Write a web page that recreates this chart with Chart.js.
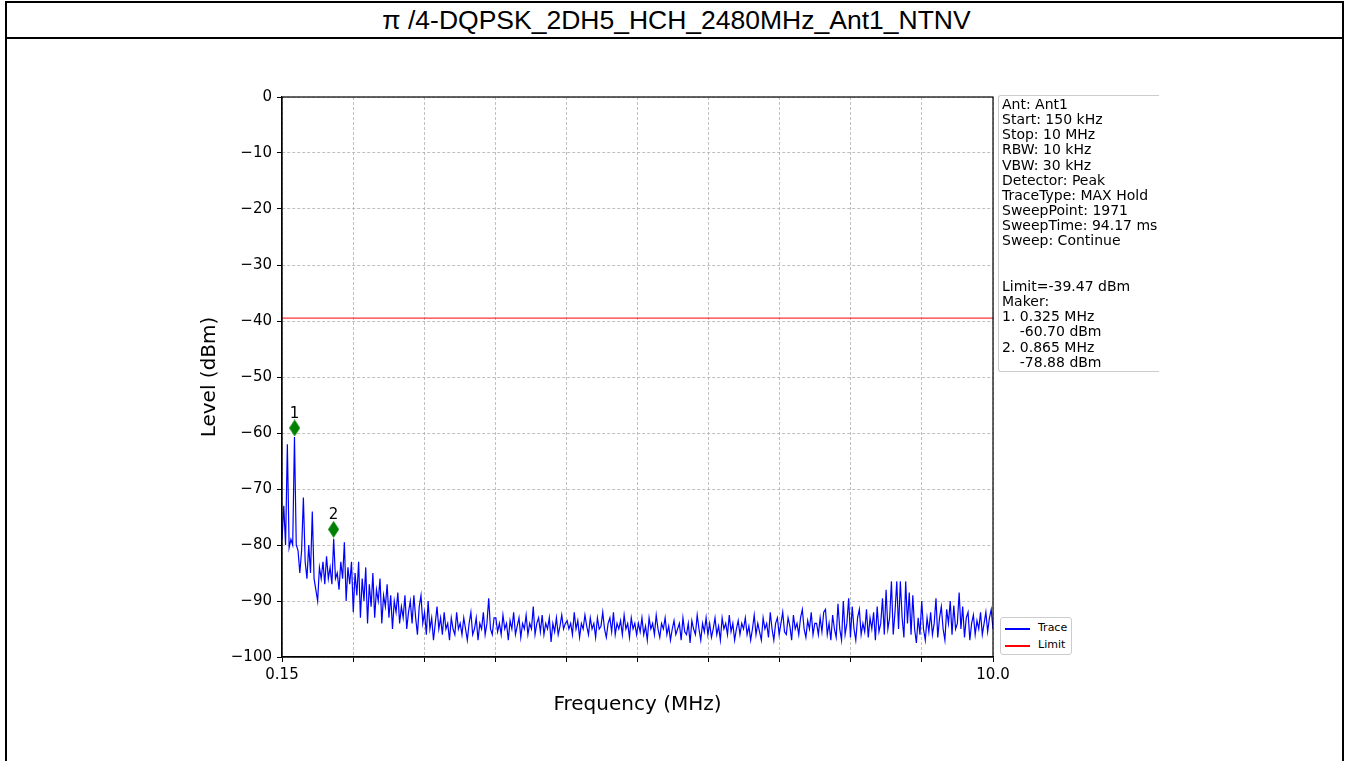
<!DOCTYPE html>
<html>
<head>
<meta charset="utf-8">
<script src="https://cdn.jsdelivr.net/npm/chart.js@4.4.1/dist/chart.umd.min.js"></script>
<style>
  body { margin: 0; background: #fff; width: 1346px; height: 761px; overflow: hidden; position: relative; }
  #frame { position: absolute; left: 5px; top: 1px; width: 1335px; height: 800px; border: 2px solid #000; border-bottom: none; }
  #head { position: absolute; left: 5px; top: 37px; width: 1339px; height: 2px; background: #000; }
  #title { position: absolute; left: 9px; top: 3px; width: 1335px; height: 34px; line-height: 34px; text-align: center;
           font-family: "Liberation Sans", Arial, sans-serif; font-size: 26.5px; color: #000; }
  #wrap { position: absolute; left: 190px; top: 41px; width: 970px; height: 690px; }
  #info { position: absolute; left: 998px; top: 95px; width: 170px; height: 277px; border: 1px solid #ccc; border-right: none;
          border-radius: 3px 0 0 3px; font-family: "DejaVu Sans", sans-serif; font-size: 14px; line-height: 15.15px;
          padding: 1px 0 0 3px; box-sizing: border-box; white-space: pre; color: #000; background: #fff; }
  #clip { position: absolute; left: 1159px; top: 90px; width: 20px; height: 290px; background: #fff; }
  #legend { position: absolute; left: 1000px; top: 617px; width: 72px; height: 38px; border: 1px solid #ccc; border-radius: 3px;
            box-sizing: border-box; font-family: "DejaVu Sans", sans-serif; font-size: 11px; background: #fff; }
  .row { position: absolute; left: 4px; height: 14px; line-height: 14px; }
  .sw { position: absolute; left: 0; top: 7px; width: 25px; height: 1.5px; }
  .lbl { position: absolute; left: 33px; top: 0; }
</style>
</head>
<body>
<div id="frame"></div>
<div id="head"></div>
<div id="title">π /4-DQPSK_2DH5_HCH_2480MHz_Ant1_NTNV</div>
<div id="wrap"><canvas id="myChart" width="970" height="690"></canvas></div>
<div id="info"></div>
<div id="clip"></div>
<div id="legend">
  <div class="row" style="top:3px"><div class="sw" style="background:#0000ff"></div><span class="lbl">Trace</span></div>
  <div class="row" style="top:20px"><div class="sw" style="background:#ff0000"></div><span class="lbl">Limit</span></div>
</div>
<script>
// sweep settings
var startMHz = 0.15;
var stopMHz = 10.0;
var limitDbm = -39.47;

// trace levels (dBm), evenly spaced sweep points
var levelDbm = [
  -79, -73, -80, -62, -80.5, -79, -80, -60.7, -80, -81, -85, -81, -71.5, -83, -86, -80, -85, -74, -86, -88,
  -90, -84, -86, -83, -87, -82, -86, -84, -87, -78.9, -86, -85, -88, -83, -86, -79.5, -90, -84, -87, -83,
  -92, -85, -89, -83, -93, -86, -90, -84, -94, -87, -91, -85, -93, -88, -90, -86, -94, -89, -91, -87,
  -93, -89, -95, -90, -92, -88.5, -94, -91, -93, -89, -95, -92, -90, -94, -89, -93, -96, -91, -89, -94,
  -92, -96, -90, -95, -93, -97, -94, -91, -95, -93, -96, -92, -95, -94, -97, -93, -95, -96, -92, -95,
  -94, -96, -93, -95, -97, -94, -92, -96, -95, -93, -97, -94, -95, -92, -96, -94, -89.5, -95, -96, -93,
  -93, -95.5, -94, -96, -92.5, -95, -94, -97, -93.5, -95, -92, -96, -94.5, -93, -96.5, -94, -95, -92.5, -96, -94,
  -95, -91, -96, -94, -93, -95.5, -92.5, -96, -94, -95, -93, -97.3, -94, -95.5, -93, -96, -94.5, -92.5, -95, -94,
  -93.5, -95, -94, -96, -92, -95, -93.5, -96.5, -94, -95, -92.5, -94.5, -96, -93, -95, -94, -96.5, -93, -95, -94.5,
  -92, -95, -96.5, -94, -93, -95.5, -92, -96, -94, -95, -93.5, -96, -92.5, -95, -94, -96.5, -93, -95, -94, -96,
  -94, -95.5, -93, -96, -94.5, -97, -93, -95, -94, -96, -92.5, -95, -96.5, -94, -95, -93, -96, -94.5, -97, -95,
  -93.5, -96, -95, -94, -97, -93, -95.5, -96, -94, -97.5, -93.5, -95, -96, -92.5, -95, -97, -94, -95.5, -93, -96,
  -94, -96.5, -95, -93, -96, -94.5, -97, -93, -95, -94, -96, -92.5, -95.5, -94, -97, -95, -93.5, -96, -94, -95,
  -93, -96, -94.5, -97, -95, -92.5, -96, -94, -95.5, -97, -93, -95, -94, -96.5, -92, -95, -97, -94, -93, -96,
  -94, -92, -95.5, -96, -93, -94.5, -97, -92.5, -95, -94, -96, -93, -91.5, -95, -96.5, -93.5, -95, -92, -96, -94,
  -94, -96, -93, -95.5, -92, -91.5, -96, -94, -97, -92.5, -95, -96.5, -90.5, -95, -97, -90, -96, -94, -89.5, -96.5,
  -91, -95, -97, -93, -91.5, -96, -94, -95.5, -91.5, -96.5, -93, -95, -92, -97, -91, -95.5, -94, -89.5, -96, -88,
  -95, -93, -86.5, -96, -92, -86.5, -95, -86.5, -93, -96.5, -86.5, -94, -88.5, -96, -89, -95, -97.5, -93, -96, -90,
  -95, -97, -93, -95.5, -92, -96, -94, -89.5, -96.5, -93, -91, -95, -97, -91.5, -94, -90, -96, -90.8, -95, -94,
  -88.5, -95, -91, -96.5, -93, -92, -97, -94, -92.5, -96, -93.5, -95, -92, -96, -94, -92, -95.5, -93, -91.5, -95
];

// markers
var markerNames = ["1", "2"];
var markerFreq = [0.325, 0.865];
var markerLevel = [-60.70, -78.88];
var markerPlotLevel = [-59.1, -77.2];

// x ticks
var xTickValues = [0.15, 1.135, 2.12, 3.105, 4.09, 5.075, 6.06, 7.045, 8.03, 9.015, 10.0];
var xTickLabels = ["0.15", "", "", "", "", "", "", "", "", "", "10.0"];

var infoLines = [
  "Ant: Ant1", "Start: 150 kHz", "Stop: 10 MHz", "RBW: 10 kHz", "VBW: 30 kHz",
  "Detector: Peak", "TraceType: MAX Hold", "SweepPoint: 1971", "SweepTime: 94.17 ms", "Sweep: Continue",
  "", "", "Limit=" + limitDbm.toFixed(2) + " dBm", "Maker:",
  "1. " + markerFreq[0].toFixed(3) + " MHz", "    " + markerLevel[0].toFixed(2) + " dBm",
  "2. " + markerFreq[1].toFixed(3) + " MHz", "    " + markerLevel[1].toFixed(2) + " dBm"
];
document.getElementById("info").textContent = infoLines.join("\n");

var freqMHz = levelDbm.map(function (_, i) {
  return startMHz + i * (stopMHz - startMHz) / (levelDbm.length - 1);
});

// thin diamond marker
var diamond = document.createElement("canvas");
diamond.width = 11; diamond.height = 17;
var dctx = diamond.getContext("2d");
dctx.fillStyle = "#008000";
dctx.beginPath();
dctx.moveTo(5.5, 0); dctx.lineTo(11, 8.5); dctx.lineTo(5.5, 17); dctx.lineTo(0, 8.5);
dctx.closePath(); dctx.fill();

var boxPlugin = {
  id: "box",
  afterDraw: function (chart) {
    var a = chart.chartArea, c = chart.ctx;
    c.save();
    c.strokeStyle = "#000"; c.lineWidth = 1.2;
    c.strokeRect(a.left, a.top, a.right - a.left, a.bottom - a.top);
    c.restore();
  },
  afterDatasetsDraw: function (chart) {
    var meta = chart.getDatasetMeta(2), c = chart.ctx;
    c.save();
    c.font = "15px 'DejaVu Sans'";
    c.fillStyle = "#000";
    c.textAlign = "center";
    c.textBaseline = "alphabetic";
    meta.data.forEach(function (pt, i) {
      c.fillText(markerNames[i], pt.x, pt.y - 10);
    });
    c.restore();
  }
};

var ctx = document.getElementById("myChart");
var chart = new Chart(ctx, {
  type: "line",
  data: {
    datasets: [{
      label: "Trace",
      data: freqMHz.map(function (f, i) { return { x: f, y: levelDbm[i] }; }),
      borderColor: "#0000ff",
      borderWidth: 1.2,
      pointRadius: 0,
      tension: 0
    }, {
      label: "Limit",
      data: [{ x: startMHz, y: limitDbm }, { x: stopMHz, y: limitDbm }],
      borderColor: "rgba(255,0,0,0.8)",
      borderWidth: 1.2,
      pointRadius: 0
    }, {
      label: "Marker",
      type: "scatter",
      data: markerFreq.map(function (f, i) { return { x: f, y: markerPlotLevel[i] }; }),
      pointStyle: diamond,
      pointRadius: 8,
      showLine: false
    }]
  },
  options: {
    responsive: false,
    animation: false,
    devicePixelRatio: 1,
    layout: { padding: { top: 56, right: 167, left: 0, bottom: 0 } },
    plugins: { legend: { display: false }, tooltip: { enabled: false } },
    scales: {
      x: {
        type: "linear",
        min: startMHz,
        max: stopMHz,
        afterBuildTicks: function (scale) {
          scale.ticks = xTickValues.map(function (v) { return { value: v }; });
        },
        afterFit: function (scale) { scale.height = 74; },
        ticks: {
          autoSkip: false,
          maxRotation: 0,
          padding: 4,
          color: "#000",
          font: { family: "DejaVu Sans", size: 15 },
          callback: function (v, i) { return xTickLabels[i]; }
        },
        grid: { color: "#b0b0b0", lineWidth: 0.8, tickColor: "#000", tickLength: 5, tickWidth: 1 },
        border: { display: true, color: "#000", width: 1.2, dash: [3, 2] },
        title: {
          display: true, text: "Frequency (MHz)", color: "#000",
          font: { family: "DejaVu Sans", size: 20 },
          padding: { top: 0, bottom: 14 }
        }
      },
      y: {
        min: -100,
        max: 0,
        afterFit: function (scale) { scale.width = 92; },
        ticks: {
          stepSize: 10,
          padding: 5,
          color: "#000",
          font: { family: "DejaVu Sans", size: 15 },
          callback: function (v) { return String(v).replace("-", "\u2212"); }
        },
        grid: { color: "#b0b0b0", lineWidth: 0.8, tickColor: "#000", tickLength: 5, tickWidth: 1 },
        border: { display: true, color: "#000", width: 1.2, dash: [3, 2] },
        title: {
          display: true, text: "Level (dBm)", color: "#000",
          font: { family: "DejaVu Sans", size: 20 },
          padding: { top: 8, bottom: 0 }
        }
      }
    }
  },
  plugins: [boxPlugin]
});
</script>
</body>
</html>
